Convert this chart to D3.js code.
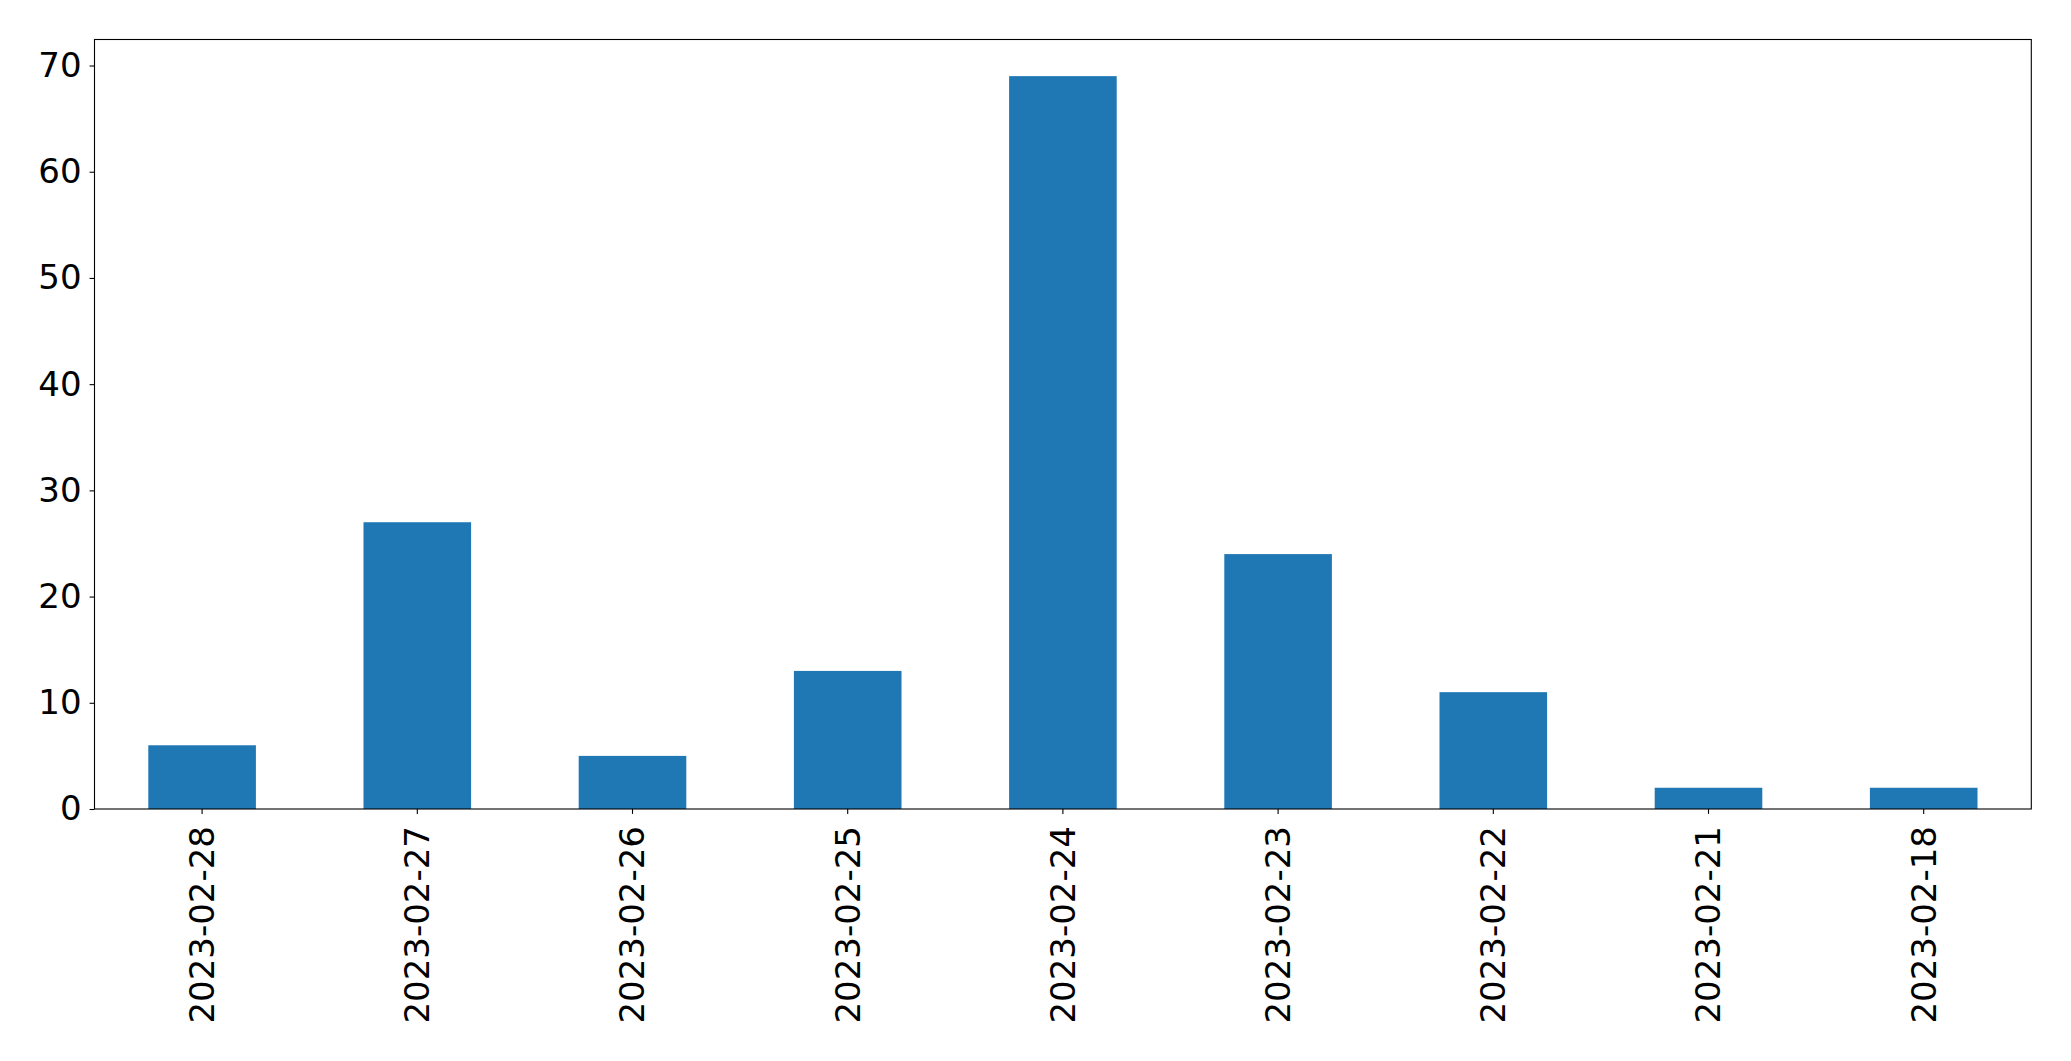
<!DOCTYPE html>
<html><head><meta charset="utf-8">
<script src="https://cdn.jsdelivr.net/npm/d3@7"></script>
<style>body{margin:0;background:#fff;} text{font-family:"DejaVu Sans",sans-serif;}</style>
</head><body><svg id="c" width="2071" height="1061"></svg>
<script>
const categories = ["2023-02-28","2023-02-27","2023-02-26","2023-02-25","2023-02-24","2023-02-23","2023-02-22","2023-02-21","2023-02-18"];
const values = [6, 27, 5, 13, 69, 24, 11, 2, 2];
const yTicks = [0, 10, 20, 30, 40, 50, 60, 70];

const L = 94.5, R = 2031.3, T = 39.5, B = 809;
const svg = d3.select("#c");
const x = d3.scaleBand().domain(categories).range([L, R]).paddingInner(0.5).paddingOuter(0.25);
const y = d3.scaleLinear().domain([0, d3.max(values) * 1.05]).range([B, T]);

svg.append("g").selectAll("rect").data(values).join("rect")
  .attr("x", (d, i) => x(categories[i]))
  .attr("width", x.bandwidth())
  .attr("y", d => y(d))
  .attr("height", d => B - y(d))
  .attr("fill", "#1f77b4");

const fs = "34px";
const ya = svg.append("g").attr("transform", `translate(${L},0)`)
  .call(d3.axisLeft(y).tickValues(yTicks).tickSize(4.9).tickPadding(8).tickFormat(d3.format("d")));
ya.select(".domain").remove();
ya.selectAll("text").style("font-size", fs).attr("fill", "#000").attr("font-family", "DejaVu Sans");
ya.selectAll("line").attr("stroke", "#000").attr("stroke-width", 1.1);

const xa = svg.append("g").attr("transform", `translate(0,${B})`)
  .call(d3.axisBottom(x).tickSize(4.9).tickPadding(8));
xa.select(".domain").remove();
xa.selectAll("line").attr("stroke", "#000").attr("stroke-width", 1.1);
xa.selectAll("text").style("font-size", fs).attr("fill", "#000").attr("font-family", "DejaVu Sans")
  .attr("transform", "rotate(-90)")
  .attr("text-anchor", "end")
  .attr("x", -17).attr("y", 0).attr("dy", "0.35em");

svg.append("rect").attr("x", L).attr("y", T).attr("width", R - L).attr("height", B - T)
  .attr("fill", "none").attr("stroke", "#000").attr("stroke-width", 1.1);
</script></body></html>
